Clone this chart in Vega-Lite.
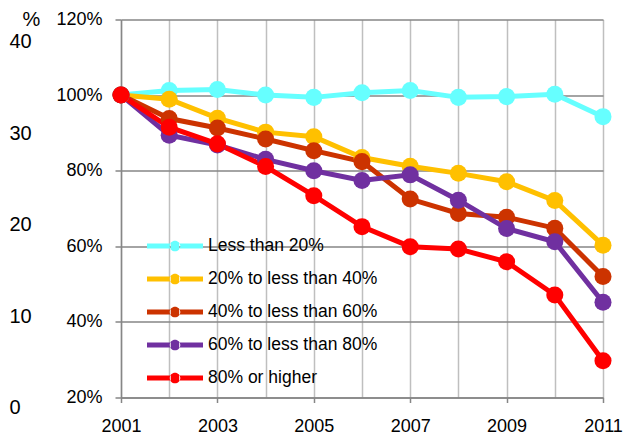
{
  "$schema": "https://vega.github.io/schema/vega-lite/v6.json",
  "width": 482,
  "height": 378,
  "autosize": {"type": "none"},
  "padding": {"left": 121, "top": 19.5, "right": 33, "bottom": 37.5},
  "background": "white",
  "config": {
    "view": {"stroke": null},
    "font": "Liberation Sans, Arial, sans-serif",
    "axis": {"labelColor": "black", "titleColor": "black", "labelFont": "Liberation Sans, Arial, sans-serif", "titleFont": "Liberation Sans, Arial, sans-serif"},
    "legend": {"labelFont": "Liberation Sans, Arial, sans-serif"}
  },
  "data": {
    "values": [
      {"year": 2001, "group": "Less than 20%", "value": 100},
      {"year": 2002, "group": "Less than 20%", "value": 101.2},
      {"year": 2003, "group": "Less than 20%", "value": 101.5},
      {"year": 2004, "group": "Less than 20%", "value": 100},
      {"year": 2005, "group": "Less than 20%", "value": 99.4},
      {"year": 2006, "group": "Less than 20%", "value": 100.6},
      {"year": 2007, "group": "Less than 20%", "value": 101.2},
      {"year": 2008, "group": "Less than 20%", "value": 99.4},
      {"year": 2009, "group": "Less than 20%", "value": 99.6},
      {"year": 2010, "group": "Less than 20%", "value": 100.2},
      {"year": 2011, "group": "Less than 20%", "value": 94.3},
      {"year": 2001, "group": "20% to less than 40%", "value": 100},
      {"year": 2002, "group": "20% to less than 40%", "value": 98.9},
      {"year": 2003, "group": "20% to less than 40%", "value": 93.9},
      {"year": 2004, "group": "20% to less than 40%", "value": 90.2},
      {"year": 2005, "group": "20% to less than 40%", "value": 89},
      {"year": 2006, "group": "20% to less than 40%", "value": 83.5},
      {"year": 2007, "group": "20% to less than 40%", "value": 81.2},
      {"year": 2008, "group": "20% to less than 40%", "value": 79.3},
      {"year": 2009, "group": "20% to less than 40%", "value": 77.1},
      {"year": 2010, "group": "20% to less than 40%", "value": 72.1},
      {"year": 2011, "group": "20% to less than 40%", "value": 60.3},
      {"year": 2001, "group": "40% to less than 60%", "value": 100},
      {"year": 2002, "group": "40% to less than 60%", "value": 93.8},
      {"year": 2003, "group": "40% to less than 60%", "value": 91.3},
      {"year": 2004, "group": "40% to less than 60%", "value": 88.4},
      {"year": 2005, "group": "40% to less than 60%", "value": 85.3},
      {"year": 2006, "group": "40% to less than 60%", "value": 82.4},
      {"year": 2007, "group": "40% to less than 60%", "value": 72.5},
      {"year": 2008, "group": "40% to less than 60%", "value": 68.7},
      {"year": 2009, "group": "40% to less than 60%", "value": 67.7},
      {"year": 2010, "group": "40% to less than 60%", "value": 64.8},
      {"year": 2011, "group": "40% to less than 60%", "value": 52},
      {"year": 2001, "group": "60% to less than 80%", "value": 100},
      {"year": 2002, "group": "60% to less than 80%", "value": 89.4},
      {"year": 2003, "group": "60% to less than 80%", "value": 86.8},
      {"year": 2004, "group": "60% to less than 80%", "value": 83},
      {"year": 2005, "group": "60% to less than 80%", "value": 80},
      {"year": 2006, "group": "60% to less than 80%", "value": 77.4},
      {"year": 2007, "group": "60% to less than 80%", "value": 78.9},
      {"year": 2008, "group": "60% to less than 80%", "value": 72.2},
      {"year": 2009, "group": "60% to less than 80%", "value": 64.7},
      {"year": 2010, "group": "60% to less than 80%", "value": 61.2},
      {"year": 2011, "group": "60% to less than 80%", "value": 45.2},
      {"year": 2001, "group": "80% or higher", "value": 100},
      {"year": 2002, "group": "80% or higher", "value": 91.5},
      {"year": 2003, "group": "80% or higher", "value": 87.1},
      {"year": 2004, "group": "80% or higher", "value": 81.1},
      {"year": 2005, "group": "80% or higher", "value": 73.4},
      {"year": 2006, "group": "80% or higher", "value": 65.2},
      {"year": 2007, "group": "80% or higher", "value": 59.9},
      {"year": 2008, "group": "80% or higher", "value": 59.3},
      {"year": 2009, "group": "80% or higher", "value": 55.9},
      {"year": 2010, "group": "80% or higher", "value": 47.1},
      {"year": 2011, "group": "80% or higher", "value": 29.7}
    ]
  },
  "layer": [
    {
      "encoding": {
        "x": {
          "field": "year", "type": "quantitative",
          "scale": {"domain": [2001, 2011], "nice": false, "zero": false},
          "axis": {
            "values": [2001, 2002, 2003, 2004, 2005, 2006, 2007, 2008, 2009, 2010, 2011],
            "format": "d",
            "labelExpr": "datum.value % 2 == 1 ? datum.label : ''",
            "grid": true, "gridColor": "#bfbfbf", "gridWidth": 1.5,
            "domainColor": "#868686", "domainWidth": 1.5,
            "tickColor": "#868686", "tickSize": 5, "tickWidth": 1.5,
            "tickOpacity": {"condition": {"test": "datum.value % 2 == 0", "value": 0}, "value": 1},
            "labelFontSize": 18, "labelPadding": 15,
            "labelFlush": false, "labelOverlap": false, "title": null
          }
        },
        "y": {
          "field": "value", "type": "quantitative",
          "scale": {"domain": [20, 120], "nice": false, "zero": false},
          "axis": {
            "values": [20, 40, 60, 80, 100, 120],
            "labelExpr": "datum.value + '%'",
            "grid": true, "gridColor": "#868686", "gridWidth": 1.5,
            "domainColor": "#868686", "domainWidth": 1.5,
            "tickColor": "#868686", "tickSize": 6, "tickWidth": 1.5,
            "labelFontSize": 18, "labelPadding": 13,
            "labelFlush": false, "labelOverlap": false, "title": null
          }
        },
        "color": {
          "field": "group", "type": "nominal",
          "scale": {
            "domain": ["Less than 20%", "20% to less than 40%", "40% to less than 60%", "60% to less than 80%", "80% or higher"],
            "range": ["#66FFFF", "#FFC000", "#CC3300", "#7030A0", "#FF0000"]
          },
          "legend": {
            "orient": "none", "legendX": 26, "legendY": 210,
            "title": null, "padding": 0, "rowPadding": 0, "clipHeight": 33,
            "symbolType": "M-1,-0.09L-0.15,-0.09L-0.15,0.09L-1,0.09ZM0.15,-0.09L1,-0.09L1,0.09L0.15,0.09ZM-0.19,0A0.19,0.19,0,1,0,0.19,0A0.19,0.19,0,1,0,-0.19,0Z",
            "symbolSize": 3136, "symbolStrokeWidth": 0, "symbolOpacity": 1,
            "labelFontSize": 17.5, "labelOffset": 5, "labelColor": "black", "labelLimit": 400,
            "encode": {"symbols": {"update": {"fill": {"scale": "color", "field": "value"}, "stroke": {"value": "transparent"}, "strokeWidth": {"value": 0}, "opacity": {"value": 1}}}}
          }
        }
      },
      "layer": [
        {"mark": {"type": "line", "strokeWidth": 5}},
        {"mark": {"type": "point", "filled": true, "size": 290, "opacity": 1}}
      ]
    },
    {
      "mark": {"type": "point", "opacity": 0, "clip": true},
      "encoding": {
        "x": {"field": "year", "type": "quantitative"},
        "y": {
          "field": "value", "type": "quantitative",
          "scale": {"domain": [0, 41.36], "nice": false, "zero": false},
          "axis": {
            "orient": "left", "offset": 112,
            "values": [0, 10, 20, 30, 40],
            "domain": false, "ticks": false, "tickSize": 0, "grid": false,
            "labelAlign": "left", "labelPadding": 0, "labelOffset": 10,
            "labelFontSize": 20, "labelFlush": false, "labelOverlap": false, "labelBound": false,
            "title": "%", "titleAngle": 0, "titleX": 13, "titleY": 0,
            "titleAlign": "left", "titleBaseline": "middle",
            "titleFontSize": 20, "titleFontWeight": "normal"
          }
        }
      }
    }
  ],
  "resolve": {"scale": {"y": "independent"}}
}
